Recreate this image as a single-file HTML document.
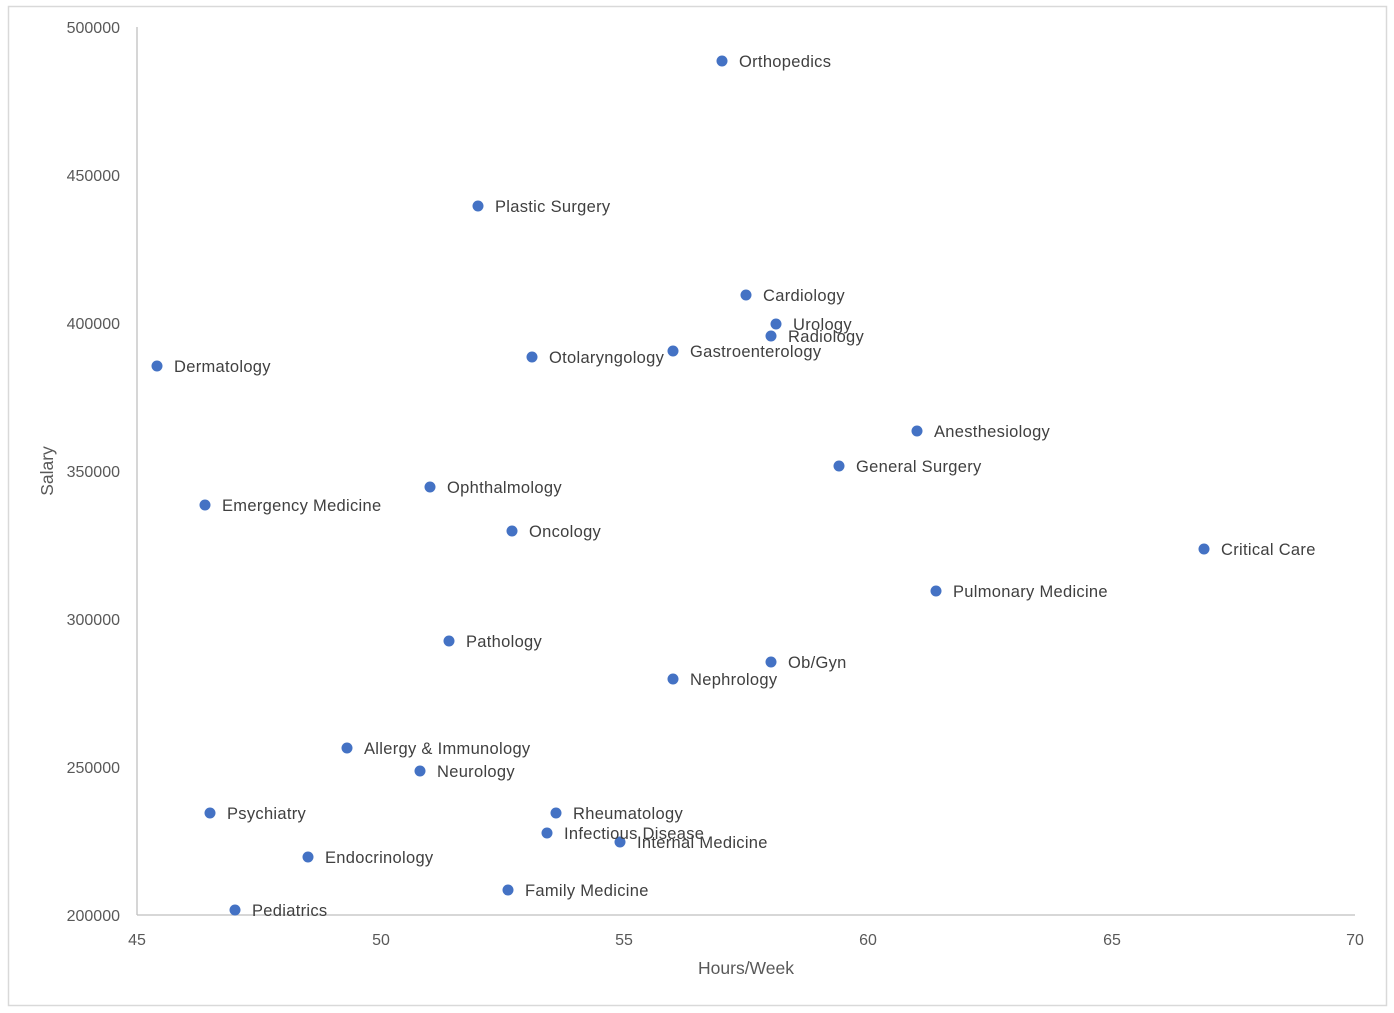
<!DOCTYPE html>
<html><head><style>
html,body{margin:0;padding:0;background:#fff;}
svg{display:block;font-family:"Liberation Sans",sans-serif;}
</style></head><body>
<svg width="1394" height="1013" viewBox="0 0 1394 1013" xmlns="http://www.w3.org/2000/svg">
<rect x="8.5" y="6.5" width="1378" height="999" fill="#fff" stroke="#d9d9d9" stroke-width="1.5"/>
<line x1="137" y1="27" x2="137" y2="915" stroke="#bfbfbf" stroke-width="1.3"/>
<line x1="137" y1="915" x2="1355" y2="915" stroke="#bfbfbf" stroke-width="1.3"/>
<g font-size="16" fill="#595959" text-anchor="end">
<text x="120" y="33">500000</text>
<text x="120" y="181">450000</text>
<text x="120" y="329">400000</text>
<text x="120" y="477">350000</text>
<text x="120" y="625">300000</text>
<text x="120" y="773">250000</text>
<text x="120" y="921">200000</text>
</g>
<g font-size="16" fill="#595959" text-anchor="middle">
<text x="137" y="945">45</text>
<text x="381" y="945">50</text>
<text x="624" y="945">55</text>
<text x="868" y="945">60</text>
<text x="1112" y="945">65</text>
<text x="1355" y="945">70</text>
<text x="746" y="974" font-size="17.5">Hours/Week</text>
<text transform="translate(53,471) rotate(-90)" font-size="17.5">Salary</text>
</g>
<g fill="#4472c4">
<circle cx="722" cy="61" r="5.5"/><circle cx="478" cy="206" r="5.5"/><circle cx="746" cy="295" r="5.5"/>
<circle cx="776" cy="324" r="5.5"/><circle cx="771" cy="336" r="5.5"/><circle cx="673" cy="351" r="5.5"/>
<circle cx="532" cy="357" r="5.5"/><circle cx="157" cy="366" r="5.5"/><circle cx="917" cy="431" r="5.5"/>
<circle cx="839" cy="466" r="5.5"/><circle cx="430" cy="487" r="5.5"/><circle cx="205" cy="505" r="5.5"/>
<circle cx="512" cy="531" r="5.5"/><circle cx="1204" cy="549" r="5.5"/><circle cx="936" cy="591" r="5.5"/>
<circle cx="449" cy="641" r="5.5"/><circle cx="771" cy="662" r="5.5"/><circle cx="673" cy="679" r="5.5"/>
<circle cx="347" cy="748" r="5.5"/><circle cx="420" cy="771" r="5.5"/><circle cx="210" cy="813" r="5.5"/>
<circle cx="556" cy="813" r="5.5"/><circle cx="547" cy="833" r="5.5"/><circle cx="620" cy="842" r="5.5"/>
<circle cx="308" cy="857" r="5.5"/><circle cx="508" cy="890" r="5.5"/><circle cx="235" cy="910" r="5.5"/>
</g>
<g font-size="16.5" fill="#404040" letter-spacing="0.3">
<text x="739" y="67">Orthopedics</text>
<text x="495" y="212">Plastic Surgery</text>
<text x="763" y="301">Cardiology</text>
<text x="793" y="330">Urology</text>
<text x="788" y="342">Radiology</text>
<text x="690" y="357">Gastroenterology</text>
<text x="549" y="363">Otolaryngology</text>
<text x="174" y="372">Dermatology</text>
<text x="934" y="437">Anesthesiology</text>
<text x="856" y="472">General Surgery</text>
<text x="447" y="493">Ophthalmology</text>
<text x="222" y="511">Emergency Medicine</text>
<text x="529" y="537">Oncology</text>
<text x="1221" y="555">Critical Care</text>
<text x="953" y="597">Pulmonary Medicine</text>
<text x="466" y="647">Pathology</text>
<text x="788" y="668">Ob/Gyn</text>
<text x="690" y="685">Nephrology</text>
<text x="364" y="754">Allergy &amp; Immunology</text>
<text x="437" y="777">Neurology</text>
<text x="227" y="819">Psychiatry</text>
<text x="573" y="819">Rheumatology</text>
<text x="564" y="839">Infectious Disease</text>
<text x="637" y="848">Internal Medicine</text>
<text x="325" y="863">Endocrinology</text>
<text x="525" y="896">Family Medicine</text>
<text x="252" y="916">Pediatrics</text>
</g>
</svg>
</body></html>
